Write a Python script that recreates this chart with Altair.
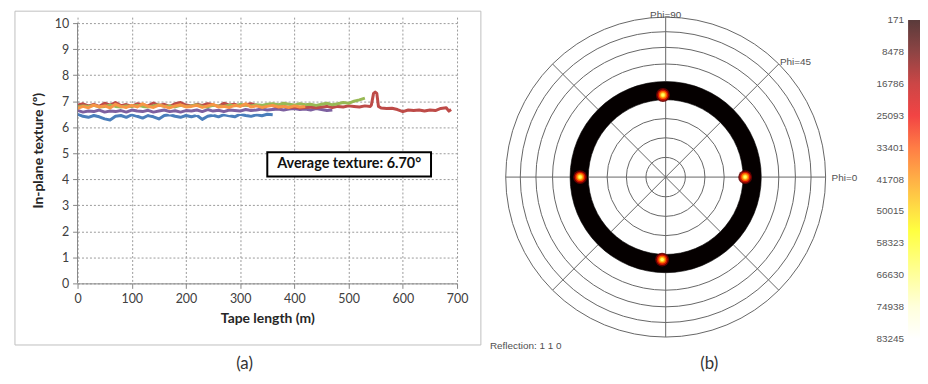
import math
import altair as alt
import pandas as pd

# ---------------- panel (a): in-plane texture vs tape length ----------------
STEP = 10  # metres between readings
blue_y = [6.5, 6.42, 6.38, 6.45, 6.4, 6.32, 6.28, 6.42, 6.45, 6.38, 6.48, 6.42, 6.35,
          6.45, 6.4, 6.32, 6.45, 6.48, 6.42, 6.38, 6.45, 6.4, 6.46, 6.3, 6.42, 6.46,
          6.4, 6.48, 6.44, 6.4, 6.5, 6.45, 6.42, 6.48, 6.44, 6.5, 6.48]
white_y = [6.58, 6.55, 6.5, 6.56, 6.52, 6.58, 6.5, 6.55, 6.6, 6.52, 6.56, 6.5, 6.58,
           6.54, 6.5, 6.56, 6.6, 6.52, 6.55, 6.5, 6.56, 6.58, 6.5, 6.54, 6.56, 6.52,
           6.58, 6.55, 6.5, 6.56, 6.54, 6.58, 6.52, 6.55, 6.56]
purple_y = [6.65, 6.58, 6.62, 6.6, 6.66, 6.58, 6.62, 6.6, 6.64, 6.58, 6.66, 6.62, 6.6,
            6.65, 6.58, 6.62, 6.66, 6.6, 6.63, 6.58, 6.64, 6.62, 6.66, 6.6, 6.68, 6.62,
            6.65, 6.6, 6.66, 6.64, 6.62, 6.68, 6.64, 6.66, 6.7, 6.66, 6.68, 6.7, 6.66,
            6.7, 6.72, 6.68, 6.7, 6.66, 6.72, 6.68, 6.64, 6.66]
red_y_head = [6.85, 6.9, 6.82, 6.88, 6.8, 6.92, 6.85, 6.95, 6.83, 6.87, 6.8, 6.9, 6.86,
              6.82, 6.93, 6.84, 6.88, 6.8, 6.9, 6.95, 6.85, 6.82, 6.88, 6.84, 6.9, 6.86,
              6.8, 6.92, 6.85, 6.88, 6.82, 6.86, 6.9, 6.84, 6.8, 6.86, 6.82, 6.78, 6.8,
              6.76, 6.78, 6.74, 6.76, 6.78, 6.75, 6.78, 6.8, 6.76, 6.8, 6.78, 6.82, 6.8,
              6.78, 6.82, 6.8]
red_x_tail = [542, 546, 549, 552, 555, 560, 570, 580, 590, 600, 610, 620, 630, 640,
              650, 660, 670, 680, 685, 689]
red_y_tail = [6.85, 7.3, 7.35, 7.3, 6.8, 6.74, 6.72, 6.73, 6.68, 6.6, 6.66, 6.64, 6.66,
              6.62, 6.66, 6.64, 6.72, 6.75, 6.62, 6.68]
green_y = [6.78, 6.82, 6.8, 6.84, 6.78, 6.8, 6.85, 6.8, 6.78, 6.82, 6.8, 6.84, 6.8,
           6.78, 6.82, 6.86, 6.8, 6.82, 6.78, 6.84, 6.8, 6.82, 6.86, 6.8, 6.78, 6.84,
           6.82, 6.8, 6.85, 6.82, 6.88, 6.84, 6.82, 6.86, 6.84, 6.88, 6.9, 6.86, 6.92,
           6.88, 6.85, 6.9, 6.86, 6.88, 6.84, 6.88, 6.92, 6.86, 6.9, 6.95, 6.92, 7.0,
           7.05, 7.12]
orange_y = [6.72, 6.8, 6.75, 6.85, 6.78, 6.82, 6.74, 6.88, 6.8, 6.76, 6.84, 6.78, 6.9,
            6.8, 6.76, 6.85, 6.8, 6.74, 6.82, 6.86, 6.78, 6.8, 6.84, 6.76, 6.82, 6.88,
            6.78, 6.8, 6.76, 6.84, 6.8, 6.9, 6.78, 6.82, 6.76, 6.8, 6.84, 6.78, 6.8,
            6.76, 6.82, 6.78, 6.8]

x_ticks = [0, 100, 200, 300, 400, 500, 600, 700]
y_ticks = [0, 1, 2, 3, 4, 5, 6, 7, 8, 9, 10]
avg_text = "Average texture: 6.70°"

# ---------------- panel (b): pole figure ----------------
chi_circles = [10, 20, 30, 40, 50, 60, 70, 80, 90]
phi_spokes = [0, 45, 90, 135, 180, 225, 270, 315]
ring_chi = [40, 50]
spot_x = [0.497, -0.017, -0.535, -0.022]
spot_y = [0.0, 0.513, 0.0, -0.516]
cbar_ticks = [171, 8478, 16786, 25093, 33401, 41708, 50015, 58323, 66630, 74938, 83245]

# ---------------- build panel (a) ----------------
def series_df(xs, ys):
    return pd.DataFrame({"x": xs, "y": ys})

def grid_x(ys):
    return [STEP * i for i in range(len(ys))]

series = [
    (series_df(grid_x(blue_y), blue_y), "#4a7ebb", 3),
    (series_df(grid_x(white_y), white_y), "#ffffff", 1.6),
    (series_df(grid_x(purple_y), purple_y), "#7d60a0", 3),
    (series_df(grid_x(red_y_head) + red_x_tail, red_y_head + red_y_tail), "#be4b48", 3),
    (series_df(grid_x(green_y), green_y), "#98b954", 3),
    (series_df(grid_x(orange_y), orange_y), "#f79646", 3),
]

W_A, H_A = 382, 268
xs_a = alt.Scale(domain=[0, 700], nice=False)
ys_a = alt.Scale(domain=[0, 10 * H_A / 262], nice=False)
axis_common = dict(labelFont="Lato", labelFontSize=12.5, labelColor="#404040",
                   titleFont="Lato", titleFontSize=14, titleFontWeight="bold",
                   titleColor="#262626", grid=True, gridColor="#9a9a9a",
                   gridDash=[2, 2], gridWidth=1, domainColor="#868686",
                   tickColor="#868686", tickSize=5, labelPadding=4,
                   labelOverlap=False)
x_axis = alt.Axis(values=x_ticks, title="Tape length (m)", titlePadding=7,
                  labelFlush=False, **axis_common)
y_axis = alt.Axis(values=y_ticks, title="In-plane texture (º)", titlePadding=9,
                  domain=False, **axis_common)

one = pd.DataFrame({"k": [0]})

def X(v):
    return alt.datum(v, scale=xs_a, axis=x_axis)

def Y(v):
    return alt.datum(v, scale=ys_a, axis=y_axis)

frame_a = alt.Chart(one).mark_rect(fillOpacity=0, stroke="#c0c0c0", strokeWidth=1).encode(
    x=alt.value(-63), x2=alt.value(406), y=alt.value(-6), y2=alt.value(330))

yaxis_line = alt.Chart(one).mark_rule(color="#868686", strokeWidth=1).encode(
    x=X(0), y=Y(0), y2=alt.datum(10))

line_layers = []
for df, col, sw in series:
    line_layers.append(
        alt.Chart(df).mark_line(color=col, strokeWidth=sw, strokeJoin="round").encode(
            x=alt.X("x:Q", scale=xs_a, axis=x_axis),
            y=alt.Y("y:Q", scale=ys_a, axis=y_axis)))

box = alt.Chart(one).mark_rect(fill="white", stroke="black", strokeWidth=2).encode(
    x=X(350), x2=alt.datum(652), y=Y(4.11), y2=alt.datum(5.04))
box_text = alt.Chart(one).mark_text(font="Lato", fontSize=14.5, fontWeight="bold",
                                    color="#111111", baseline="middle").encode(
    x=X(501), y=Y(4.575), text=alt.value(avg_text))
label_a = alt.Chart(one).mark_text(font="Lato", fontSize=17, color="#333333",
                                   baseline="middle").encode(
    x=X(308), y=Y(-3.09), text=alt.value("(a)"))

panel_a = alt.layer(*line_layers, frame_a, yaxis_line, box, box_text,
                    label_a).properties(width=W_A, height=H_A)

# ---------------- build panel (b) ----------------
R = 161
W_B = 2 * R
xs_b = alt.Scale(domain=[-1, 1], nice=False, zero=False)
ys_b = alt.Scale(domain=[-1, 1], nice=False, zero=False)
rs_b = alt.Scale(type="linear", domain=[0, 1], range=[0, R], zero=True)
grey = "#666666"

circles = alt.Chart(pd.DataFrame({"chi": chi_circles})).transform_calculate(
    r="sqrt(2)*sin(datum.chi*PI/360)"
).mark_arc(theta=0, theta2=2 * math.pi, fillOpacity=0, stroke=grey,
           strokeWidth=1).encode(radius=alt.Radius("r:Q", scale=rs_b, stack=False))

spokes = alt.Chart(pd.DataFrame({"phi": phi_spokes})).transform_calculate(
    x0="0", y0="0", x1="cos(datum.phi*PI/180)", y1="sin(datum.phi*PI/180)"
).mark_rule(color=grey, strokeWidth=1).encode(
    x=alt.X("x0:Q", scale=xs_b, axis=None), y=alt.Y("y0:Q", scale=ys_b, axis=None),
    x2="x1:Q", y2="y1:Q")

ring = alt.Chart(pd.DataFrame({"c0": [ring_chi[0]], "c1": [ring_chi[1]]})).transform_calculate(
    r_in="sqrt(2)*sin(datum.c0*PI/360)", r_out="sqrt(2)*sin(datum.c1*PI/360)"
).mark_arc(theta=0, theta2=2 * math.pi, color="#050000").encode(
    radius=alt.Radius("r_out:Q", scale=rs_b, stack=False), radius2="r_in:Q")

spots_df = pd.DataFrame({"x": spot_x, "y": spot_y})
spot_styles = [(14, "#6a0000", 0.9), (11, "#d01500", 1.0), (8, "#ff6a00", 1.0),
               (5.5, "#ffc020", 1.0), (3.5, "#ffff60", 1.0)]
spot_layers = []
for d, c, op in spot_styles:
    spot_layers.append(alt.Chart(spots_df).mark_circle(size=d * d, color=c, opacity=op).encode(
        x=alt.X("x:Q", scale=xs_b, axis=None), y=alt.Y("y:Q", scale=ys_b, axis=None)))

def ptext(txt, x, y, align="left", baseline="alphabetic", size=10, font="Liberation Sans",
          color="#505050"):
    return alt.Chart(one).mark_text(font=font, fontSize=size, color=color, align=align,
                                    baseline=baseline).encode(
        x=alt.datum(x, scale=xs_b, axis=None), y=alt.datum(y, scale=ys_b, axis=None),
        text=alt.value(txt))

texts_b = [
    ptext("Phi=90", 0.0, 0.994, align="center"),
    ptext("Phi=45", 0.714, 0.702),
    ptext("Phi=0", 1.037, -0.005, baseline="middle"),
    ptext("Reflection: 1 1 0", -1.099, -1.056, baseline="middle"),
    ptext("(b)", 0.273, -1.168, align="center", baseline="middle", size=17, font="Lato",
          color="#333333"),
]

panel_b = alt.layer(circles, spokes, ring, *spot_layers, *texts_b).properties(
    width=W_B, height=W_B)

# ---------------- colour bar ----------------
H_C = 324
ys_c = alt.Scale(domain=[-605, 83245], reverse=True, nice=False, zero=False)
grad = alt.LinearGradient(
    gradient="linear", x1=0, x2=0, y1=0, y2=1,
    stops=[
        alt.GradientStop(color="#5a3b3b", offset=0.0),
        alt.GradientStop(color="#8e4444", offset=0.1),
        alt.GradientStop(color="#cc4646", offset=0.2),
        alt.GradientStop(color="#f24444", offset=0.3),
        alt.GradientStop(color="#ff7d45", offset=0.4),
        alt.GradientStop(color="#ffb046", offset=0.5),
        alt.GradientStop(color="#ffe244", offset=0.6),
        alt.GradientStop(color="#ffff40", offset=0.66),
        alt.GradientStop(color="#ffff9c", offset=0.8),
        alt.GradientStop(color="#ffffdc", offset=0.9),
        alt.GradientStop(color="#ffffff", offset=1.0),
    ])
bar = alt.Chart(one).mark_rect(color=grad).encode(
    x=alt.value(34), x2=alt.value(46),
    y=alt.datum(cbar_ticks[0], scale=ys_c, axis=None), y2=alt.datum(cbar_ticks[-1]))
bar_labels = alt.Chart(pd.DataFrame({"v": cbar_ticks, "t": [str(v) for v in cbar_ticks]})
                       ).mark_text(font="Liberation Sans", fontSize=10, color="#555555",
                                   align="right", baseline="middle").encode(
    y=alt.Y("v:Q", scale=ys_c, axis=None), x=alt.value(30), text="t:N")
panel_c = alt.layer(bar, bar_labels).properties(width=46, height=H_C)

chart = alt.hconcat(panel_a, panel_b, panel_c, spacing=49, bounds="flush").properties(
    padding={"left": 6, "top": 0, "right": 0, "bottom": 0}, background="white"
).configure_view(strokeWidth=0)

chart.save("out.html", embed_options={"renderer": "svg", "actions": False})
